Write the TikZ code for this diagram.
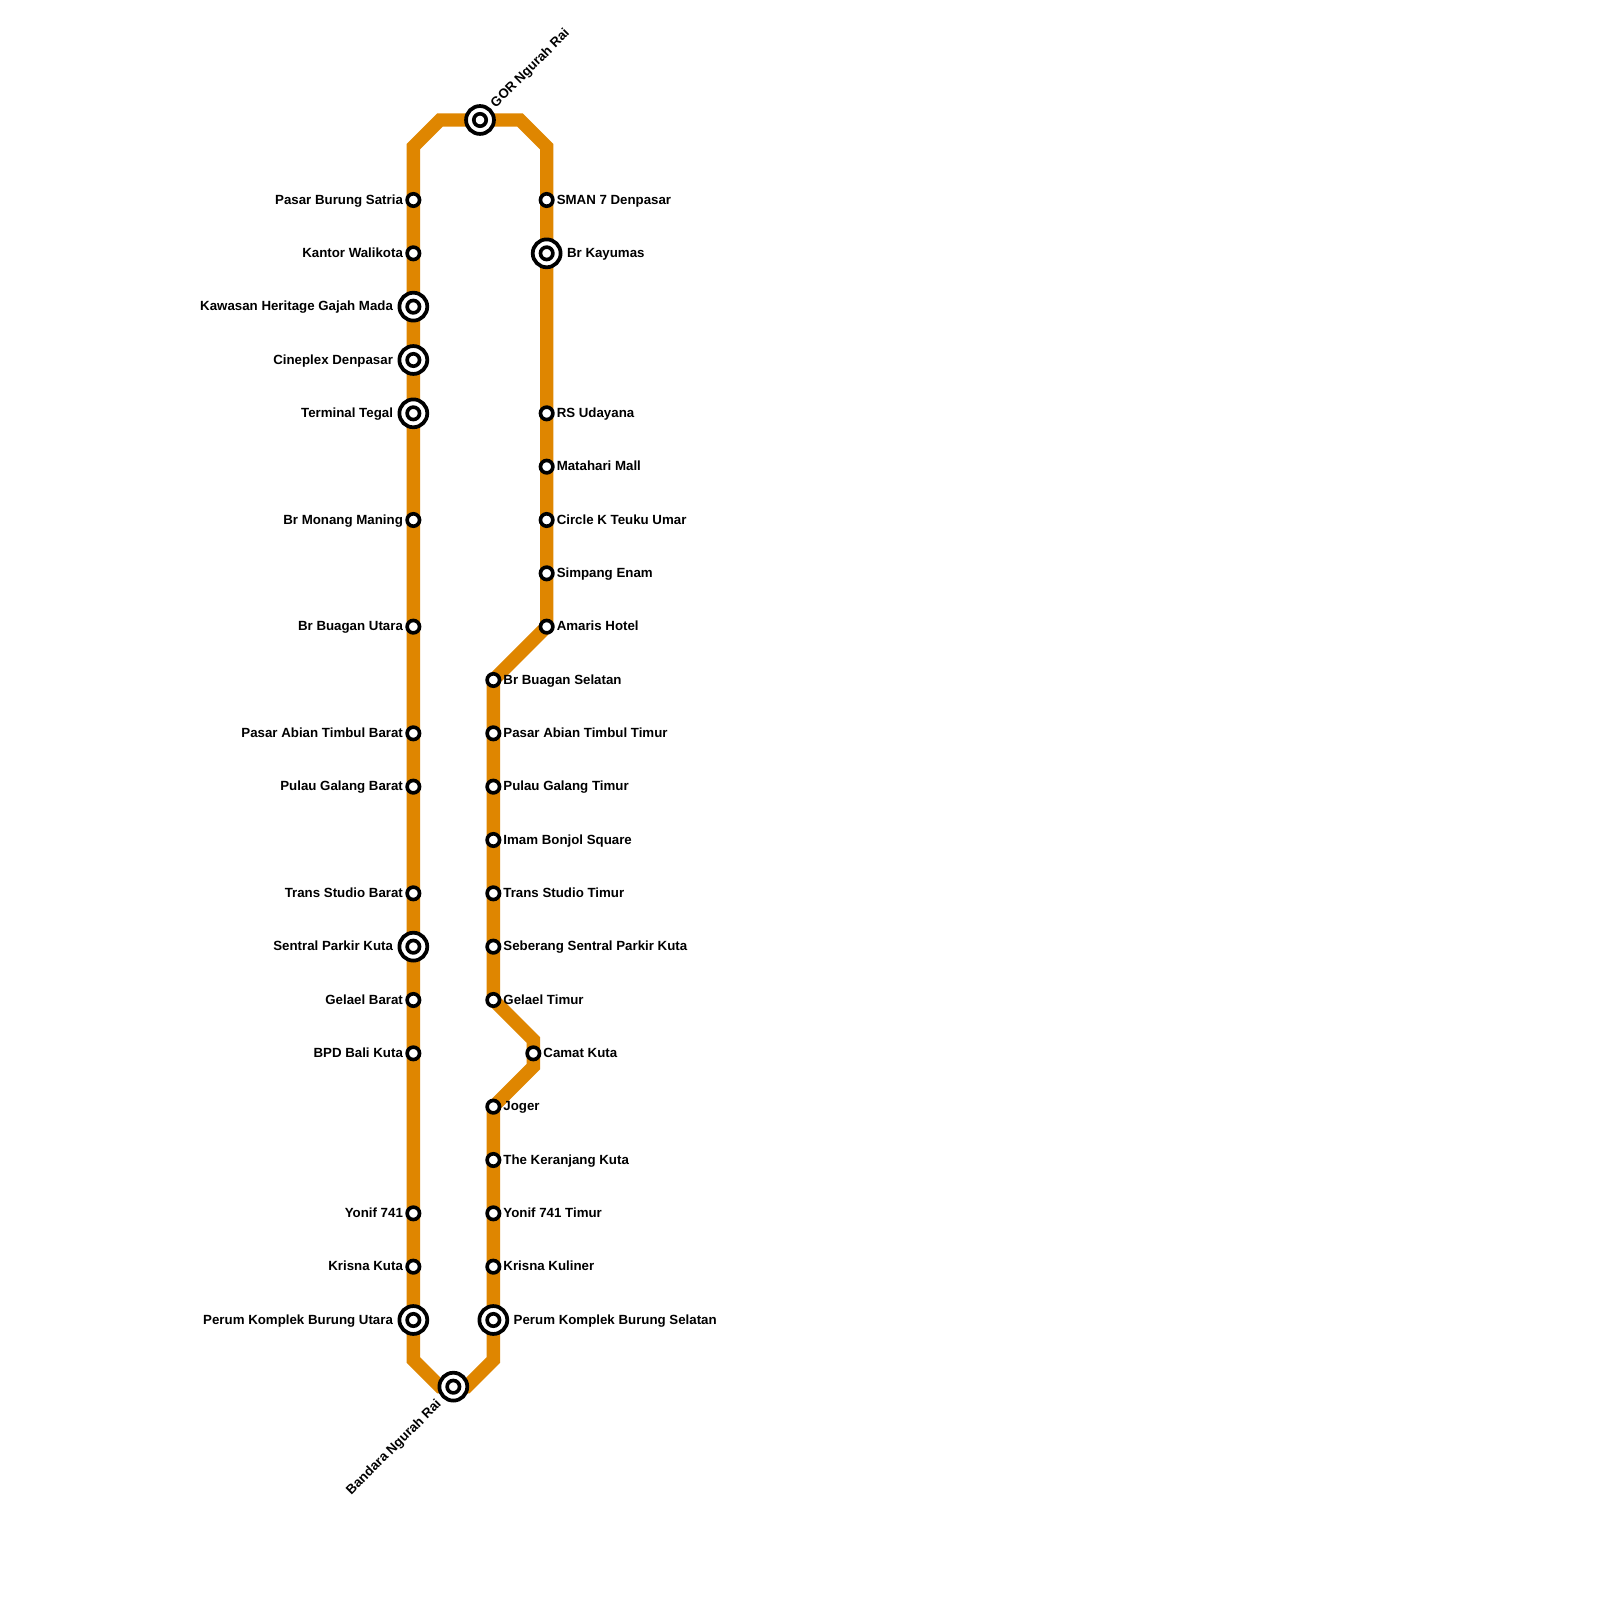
\documentclass[tikz,border=0pt]{standalone}
\usepackage{fontspec}
\setmainfont{Liberation Sans}
\usetikzlibrary{backgrounds}
\definecolor{lineorange}{HTML}{DF8600}

\begin{document}
\begin{tikzpicture}[
    x=.2cm, y=-.2cm,
    stn/.style={circle, draw=black, fill=white, line width=1.55pt, minimum size=5.3pt, inner sep=0pt},
    hub/.style={circle, draw=black, fill=white, line width=1.6pt, minimum size=11.9pt, inner sep=0pt},
    stnname/.style={font=\bfseries\fontsize{5.67pt}{6pt}\selectfont, inner sep=0pt, yshift=.85pt},
    route/.style={draw=lineorange, line width=.2cm}
]
\useasboundingbox (0,0) rectangle (120,120);

% plain stops, west side and the two runs on the east side
\foreach \y/\n/\t in {15/psat/Pasar Burung Satria, 19/kwal/Kantor Walikota, 39/mona/Br Monang Maning,
    47/buau/Br Buagan Utara, 55/pabb/Pasar Abian Timbul Barat, 59/pgab/Pulau Galang Barat,
    67/tsba/Trans Studio Barat, 75/geba/Gelael Barat, 79/bpdk/BPD Bali Kuta,
    91/yoni/Yonif 741, 95/krku/Krisna Kuta}
{
    \node[stn] (\n) at (31,\y) {};
    \node[stnname, anchor=mid east] (\n-name) at ([xshift=-4.25pt]\n.center) {\t};
}
\foreach \x/\y/\n/\t in {41/15/sman/SMAN 7 Denpasar, 41/31/rsud/RS Udayana, 41/35/mata/Matahari Mall,
    41/39/circ/Circle K Teuku Umar, 41/43/sime/Simpang Enam, 41/47/amar/Amaris Hotel,
    37/51/buas/Br Buagan Selatan, 37/55/pabt/Pasar Abian Timbul Timur, 37/59/pgat/Pulau Galang Timur,
    37/63/imam/Imam Bonjol Square, 37/67/tsti/Trans Studio Timur, 37/71/sebe/Seberang Sentral Parkir Kuta,
    37/75/geti/Gelael Timur, 40/79/camt/Camat Kuta, 37/83/joge/Joger, 37/87/kera/The Keranjang Kuta,
    37/91/yont/Yonif 741 Timur, 37/95/krkl/Krisna Kuliner}
{
    \node[stn] (\n) at (\x,\y) {};
    \node[stnname, anchor=mid west] (\n-name) at ([xshift=4.1pt]\n.center) {\t};
}

% interchanges
\foreach \x/\y/\n in {31/23/kawa, 31/27/cine, 31/31/tegl, 31/71/spku, 31/99/pkbu,
    41/19/kayu, 37/99/pkbs, 36/9/gorn, 34/104/bngr}
{
    \node[hub] (\n-ring) at (\x,\y) {};
    \node[stn] (\n) at (\x,\y) {};
}
\foreach \n/\t in {kawa/Kawasan Heritage Gajah Mada, cine/Cineplex Denpasar, tegl/Terminal Tegal,
    spku/Sentral Parkir Kuta, pkbu/Perum Komplek Burung Utara}
    \node[stnname, anchor=mid east] (\n-name) at ([xshift=-8.5pt]\n.center) {\t};
\foreach \n/\t in {kayu/Br Kayumas, pkbs/Perum Komplek Burung Selatan}
    \node[stnname, anchor=mid west] (\n-name) at ([xshift=8.5pt]\n.center) {\t};
\node[stnname, rotate=45, anchor=mid west] (gorn-name) at ([shift={(4.8pt,5.9pt)}]gorn.center) {GOR Ngurah Rai};
\node[stnname, rotate=45, anchor=mid east] (bngr-name) at ([shift={(-1.9pt,-1.9pt)}]bngr-ring.south west) {Bandara Ngurah Rai};

% bends of the route
\coordinate (ntl) at (31,11);
\coordinate (ntm) at (33,9);
\coordinate (ntr) at (39,9);
\coordinate (nrr) at (41,11);
\coordinate (kta) at (40,78);
\coordinate (ktb) at (40,80);
\coordinate (sbl) at (31,102);
\coordinate (sbm) at (33,104);
\coordinate (sbn) at (35,104);
\coordinate (sbr) at (37,102);

\begin{pgfonlayer}{background}
\fill[white] (0,0) rectangle (120,120);
\draw[route] (bngr.center) -- (sbm) -- (sbl) -- (ntl) -- (ntm) -- (ntr) -- (nrr) -- (amar.center)
    -- (buas.center) -- (geti.center) -- (kta) -- (ktb) -- (joge.center) -- (sbr) -- (sbn) -- (bngr.center);
\end{pgfonlayer}

\end{tikzpicture}
\end{document}
